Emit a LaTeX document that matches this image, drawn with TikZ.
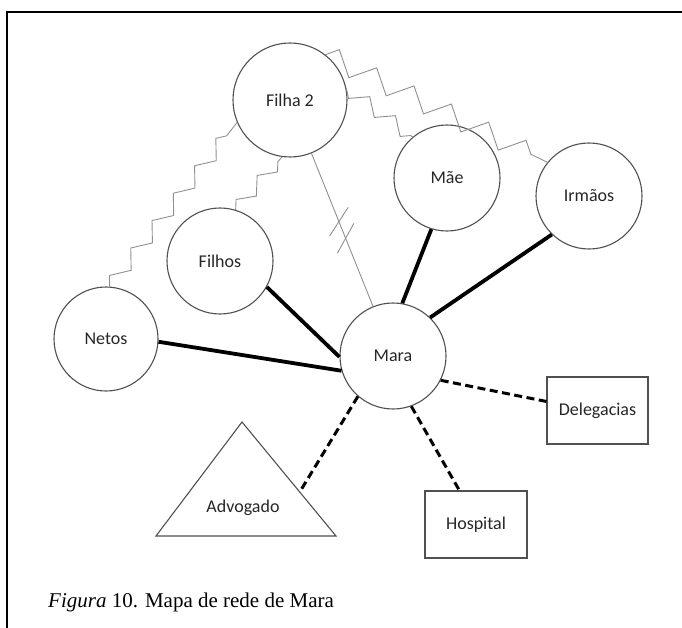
\documentclass[tikz,border=0pt]{standalone}
\usepackage{fontspec}
\setmainfont{Carlito}
\newfontfamily\capfont{Liberation Serif}
\usetikzlibrary{calc,decorations.pathmorphing}
\definecolor{outline}{HTML}{505050}
\definecolor{tie}{HTML}{909090}
\definecolor{labeltext}{HTML}{262626}
\begin{document}
\begin{tikzpicture}[x=1pt,y=-1pt,
  person/.style={circle, draw=outline, line width=1.1pt, minimum size=#1, inner sep=0pt,
    font=\fontsize{18}{20}\selectfont, text=labeltext},
  person/.default=106pt,
  place/.style={rectangle, draw=outline, line width=1.1pt, minimum width=101pt,
    minimum height=67pt, inner sep=0pt, font=\fontsize{18}{20}\selectfont, text=labeltext},
  strongtie/.style={line width=3.8pt, black},
  weaktie/.style={line width=3pt, black, dash pattern=on 8pt off 4.5pt},
  brokentie/.style={draw=tie, line width=0.9pt},
  conflict/.style={draw=tie, line width=0.9pt, line join=miter, decorate},
]
\useasboundingbox (0,0) rectangle (682,628);

% frame
\draw[line width=1.5pt, black] (7,628) -- (7,12) -- (682,12);

% people
\node[person=114pt] (filha2) at (290,100) {Filha 2};
\node[person] (mae) at (447,178) {Mãe};
\node[person] (irmaos) at (589,196) {Irmãos};
\node[person] (filhos) at (220,261) {Filhos};
\node[person=104pt] (netos) at (106,339) {Netos};
\node[person] (mara) at (393,356) {Mara};

% institutions
\node[place] (deleg) at (597.5,410.5) {Delegacias};
\node[place, minimum width=102pt] (hospital) at (476,524.5) {Hospital};

% triangle for the lawyer
\coordinate (advapex) at (242,422);
\coordinate (advleft) at (156,536);
\coordinate (advright) at (336,536);
\draw[outline, line width=1.1pt, line join=miter] (advapex) -- (advright) -- (advleft) -- cycle;
\node[font=\fontsize{18}{20}\selectfont, text=labeltext] (advogado) at (243,508) {Advogado};
\coordinate (advport) at ($(advapex)!0.614!(advright)$);

% strong ties
\draw[strongtie] (netos.357) -- (mara.196);
\draw[strongtie] (filhos.331) -- (mara.181);
\draw[strongtie] (mae.253) -- (mara.80);
\draw[strongtie] (irmaos.226) -- (mara.46);

% weak ties
\draw[weaktie] (mara.229) -- (advport);
\draw[weaktie] (mara.290) -- (hospital.116);
\draw[weaktie] (mara.333) -- (deleg.170);

% broken tie with Filha 2
\draw[brokentie] (filha2) -- (mara);
\coordinate (cut1) at ($(filha2)!0.475!(mara)$);
\coordinate (cut2) at ($(filha2)!0.54!(mara)$);
\draw[brokentie] ([shift={(237:17pt)}]cut1) -- ([shift={(57:17pt)}]cut1);
\draw[brokentie] ([shift={(241:17pt)}]cut2) -- ([shift={(61:17pt)}]cut2);

% conflictual ties
\draw[conflict, decoration={zigzag, segment length=34.7pt, amplitude=7pt}]
  (netos.86) -- (filha2.203);
\draw[conflict, decoration={zigzag, segment length=32pt, amplitude=6.5pt}]
  (filhos.73) -- (filha2.262);
\draw[conflict, decoration={zigzag, segment length=32pt, amplitude=-7pt}]
  (filha2.12) -- (mae.130);
\draw[conflict, decoration={zigzag, segment length=41.5pt, amplitude=10.5pt}]
  (filha2.52) -- (irmaos.141);

% caption
\node[anchor=base west, inner sep=0pt, font=\capfont\fontsize{21}{24}\selectfont, text=black]
  (caption) at (48,607) {\textit{Figura} 10. Mapa de rede de Mara};
\end{tikzpicture}
\end{document}
